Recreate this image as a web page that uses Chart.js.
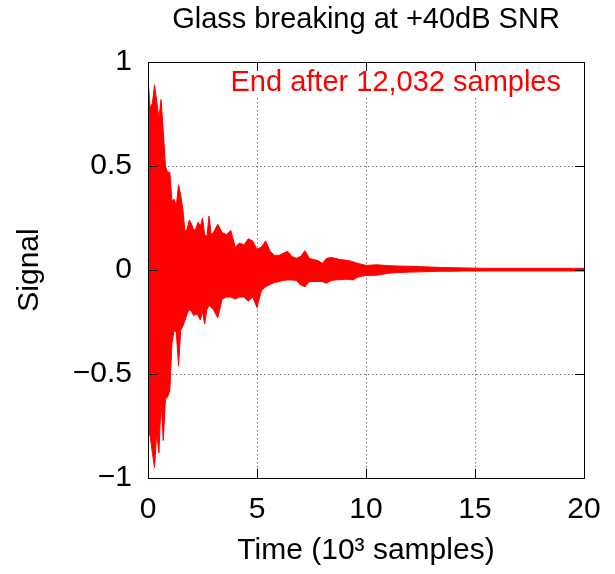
<!DOCTYPE html>
<html>
<head>
<meta charset="utf-8">
<script src="https://cdn.jsdelivr.net/npm/chart.js@4/dist/chart.umd.min.js"></script>
<style>
  html, body { margin: 0; padding: 0; background: #fff; }
  canvas { display: block; }
</style>
</head>
<body>
<canvas id="signalChart" width="615" height="574"></canvas>
<script>
// time in thousands of samples, with the upper / lower envelope of the signal
const times = [
  0.0, 0.1, 0.2, 0.3, 0.4, 0.5, 0.6, 0.7, 0.8, 0.9,
  1.0, 1.1, 1.2, 1.3, 1.4, 1.5, 1.6, 1.7, 1.8, 1.9,
  2.0, 2.1, 2.2, 2.3, 2.4, 2.5, 2.6, 2.7, 2.8, 2.9, 3.0,
  3.2, 3.4, 3.6, 3.8, 4.0, 4.2, 4.4, 4.6, 4.8, 5.0,
  5.2, 5.4, 5.6, 5.8, 6.0, 6.2, 6.4, 6.6, 6.8, 7.0,
  7.2, 7.4, 7.6, 7.8, 8.0, 8.2, 8.4, 8.6, 8.8, 9.0,
  9.2, 9.4, 9.6, 9.8, 10.0,
  10.5, 11.0, 11.5, 12.0, 12.5, 13.0, 13.5, 14.0, 14.5, 15.0,
  15.5, 16.0, 16.5, 17.0, 17.5, 18.0, 18.5, 19.0, 19.5, 20.0
];
const upper = [
  0.92, 0.78, 0.80, 0.89, 0.81, 0.73, 0.82, 0.67, 0.50, 0.47,
  0.47, 0.33, 0.34, 0.31, 0.41, 0.36, 0.29, 0.18, 0.20, 0.24,
  0.22, 0.19, 0.20, 0.23, 0.21, 0.25, 0.17, 0.16, 0.26, 0.17, 0.18,
  0.22, 0.18, 0.17, 0.19, 0.11, 0.13, 0.12, 0.15, 0.14, 0.10,
  0.11, 0.14, 0.09, 0.07, 0.07, 0.08, 0.09, 0.065, 0.056, 0.065,
  0.093, 0.056, 0.05, 0.045, 0.032, 0.056, 0.06, 0.056, 0.05, 0.048,
  0.045, 0.04, 0.032, 0.028, 0.022,
  0.025, 0.021, 0.019, 0.018, 0.016, 0.014, 0.012, 0.011, 0.010, 0.009,
  0.008, 0.008, 0.008, 0.008, 0.008, 0.008, 0.008, 0.008, 0.008, 0.008
];
const lower = [
  -0.78, -0.80, -0.88, -0.95, -0.78, -0.88, -0.63, -0.82, -0.62, -0.61,
  -0.58, -0.35, -0.29, -0.30, -0.46, -0.29, -0.27, -0.24, -0.21, -0.19,
  -0.20, -0.22, -0.21, -0.22, -0.24, -0.20, -0.26, -0.19, -0.17, -0.18, -0.19,
  -0.23, -0.14, -0.13, -0.13, -0.14, -0.13, -0.13, -0.15, -0.13, -0.18,
  -0.10, -0.08, -0.07, -0.06, -0.056, -0.05, -0.048, -0.048, -0.05, -0.072,
  -0.08, -0.056, -0.055, -0.055, -0.056, -0.064, -0.05, -0.048, -0.047, -0.045,
  -0.045, -0.048, -0.035, -0.03, -0.026,
  -0.025, -0.016, -0.012, -0.010, -0.009, -0.007, -0.006, -0.006, -0.005, -0.005,
  -0.005, -0.005, -0.005, -0.005, -0.005, -0.005, -0.005, -0.005, -0.005, -0.005
];
const xTicks = [0, 5, 10, 15, 20];
const yTicks = [-1, -0.5, 0, 0.5, 1];
const chartTitle = 'Glass breaking at +40dB SNR';
const noteText = 'End after 12,032 samples';

const upperPts = times.map((t, i) => ({ x: t, y: upper[i] }));
const lowerPts = times.map((t, i) => ({ x: t, y: lower[i] }));

const FONT = '"Liberation Sans", Arial, Helvetica, sans-serif';
Chart.defaults.font.family = FONT;
Chart.defaults.font.size = 30;
Chart.defaults.color = '#000';

const framePlugin = {
  id: 'frame',
  afterDatasetsDraw(chart) {
    const { ctx, chartArea: a } = chart;
    ctx.save();
    // note in the top right corner
    ctx.font = '29px ' + FONT;
    ctx.textAlign = 'right';
    ctx.textBaseline = 'middle';
    const w = ctx.measureText(noteText).width;
    ctx.fillStyle = '#fff';
    ctx.fillRect(a.right - 23 - w - 3, a.top + 3, w + 6, 31);
    ctx.fillStyle = '#ff0000';
    ctx.fillText(noteText, a.right - 23, a.top + 21);

    // border
    ctx.strokeStyle = '#000';
    ctx.lineWidth = 1;
    ctx.strokeRect(a.left + 0.5, a.top + 0.5, a.right - a.left, a.bottom - a.top);

    // inward tick marks on all four sides
    const xs = chart.scales.x, ys = chart.scales.y;
    const len = 9;
    ctx.beginPath();
    xTicks.forEach(v => {
      const px = Math.round(xs.getPixelForValue(v)) + 0.5;
      ctx.moveTo(px, a.bottom); ctx.lineTo(px, a.bottom - len);
      ctx.moveTo(px, a.top); ctx.lineTo(px, a.top + len);
    });
    yTicks.forEach(v => {
      const py = Math.round(ys.getPixelForValue(v)) + 0.5;
      ctx.moveTo(a.left, py); ctx.lineTo(a.left + len, py);
      ctx.moveTo(a.right, py); ctx.lineTo(a.right - len, py);
    });
    ctx.stroke();

    // title centred over the plot
    ctx.fillStyle = '#000';
    ctx.textAlign = 'center';
    ctx.fillText(chartTitle, (a.left + a.right) / 2, 20);
    ctx.restore();
  }
};

new Chart(document.getElementById('signalChart').getContext('2d'), {
  type: 'line',
  data: {
    datasets: [{
      data: upperPts,
      borderColor: '#ff0000',
      borderWidth: 1,
      pointRadius: 0,
      tension: 0,
      fill: false
    }, {
      data: lowerPts,
      borderColor: '#ff0000',
      backgroundColor: '#ff0000',
      borderWidth: 1,
      pointRadius: 0,
      tension: 0,
      fill: '-1'
    }]
  },
  options: {
    responsive: false,
    animation: false,
    parsing: false,
    layout: { padding: { top: 62, right: 31, left: 0, bottom: 0 } },
    plugins: {
      legend: { display: false },
      tooltip: { enabled: false },
      title: { display: false }
    },
    scales: {
      x: {
        type: 'linear',
        min: 0,
        max: 20,
        afterBuildTicks: s => { s.ticks = xTicks.map(v => ({ value: v })); },
        afterFit: s => { s.height = 96; },
        ticks: { padding: 14, maxRotation: 0 },
        grid: { color: '#777', borderDash: [1.5, 2.5], drawTicks: false },
        border: { display: false, dash: [1.5, 2.5] },
        title: { display: true, text: 'Time (10³ samples)', padding: { top: 0, bottom: 5 } }
      },
      y: {
        type: 'linear',
        min: -1,
        max: 1,
        afterBuildTicks: s => { s.ticks = yTicks.map(v => ({ value: v })); },
        afterFit: s => { s.width = 148; },
        ticks: {
          padding: 16,
          callback: v => String(v).replace('-', '\u2212')
        },
        grid: { color: '#777', drawTicks: false },
        border: { display: false, dash: [1.5, 2.5] },
        title: { display: true, text: 'Signal', padding: { top: 12, bottom: 0 } }
      }
    }
  },
  plugins: [framePlugin]
});
</script>
</body>
</html>
